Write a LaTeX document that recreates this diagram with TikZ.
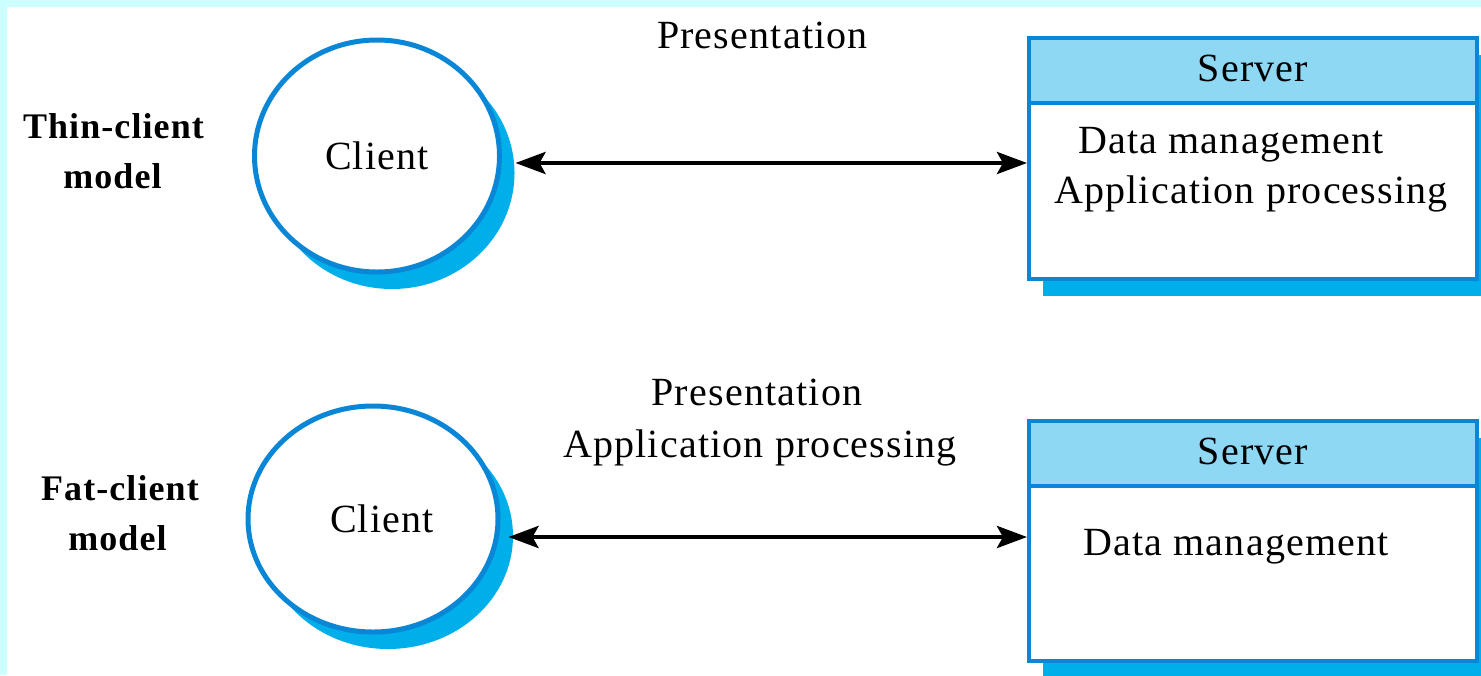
\documentclass[tikz,border=0pt]{standalone}
\usepackage{fontspec}
\setmainfont{Liberation Serif}[LetterSpace=3]
\usetikzlibrary{shapes.geometric,shadows,arrows.meta,calc}
\definecolor{bgcyan}{HTML}{CCFFFF}
\definecolor{edgeblue}{HTML}{0A86D6}
\definecolor{shadeblue}{HTML}{00AEEA}
\definecolor{headblue}{HTML}{8FD8F4}
\tikzset{
  lbl/.style={font=\fontsize{20}{25}\selectfont, inner sep=0pt, anchor=base},
  modellbl/.style={font=\bfseries\fontsize{18}{25}\selectfont, inner sep=0pt, anchor=base},
  bluedrop/.style={drop shadow={shadow xshift=#1, shadow yshift=-8.5pt, fill=shadeblue, opacity=1}},
  clientnode/.style={ellipse, draw=edgeblue, line width=2.5pt, fill=white, inner sep=0pt,
    font=\fontsize{20}{25}\selectfont, bluedrop=7.5pt},
  serverbox/.style={rectangle, draw=edgeblue, line width=2pt, fill=white,
    minimum width=224pt, bluedrop=7pt},
  serverhead/.style={rectangle, draw=edgeblue, line width=2pt, fill=headblue,
    minimum width=224pt, minimum height=32.5pt, anchor=north, inner sep=0pt,
    font=\fontsize{20}{25}\selectfont},
  link/.style={{Stealth[length=15pt,width=11pt,inset=3pt]}-{Stealth[length=15pt,width=11pt,inset=3pt]}, line width=2.2pt}
}
\begin{document}
\begin{tikzpicture}[x=0.5pt,y=-0.5pt]
% page background with its tinted frame
\fill[bgcyan] (0,0) rectangle (1481,675);
\fill[white] (7,7) rectangle (1481,675);
\useasboundingbox (0,0) rectangle (1481,675);

% ---- thin-client model ----
\node[modellbl] (thinA) at (113.5,138) {Thin-client};
\node[modellbl] (thinB) at (112.5,188) {model};
\node[clientnode, minimum width=122.5pt, minimum height=116pt] (c1) at (377,156) {Client};
\node[serverbox, minimum height=120.5pt] (s1) at (1253,158.5) {};
\node[serverhead] (h1) at (s1.north) {\raisebox{2pt}{Server}};
\node[lbl] (d1) at (1231,153) {Data management};
\node[lbl] (a1) at (1251,203) {Application processing};
\node[lbl] (pr1) at (762.5,48) {Presentation};
\coordinate (p1) at ($(c1.east)+(13.5,7)$);
\draw[link] (p1) -- (p1 -| s1.west);

% ---- fat-client model ----
\node[modellbl] (fatA) at (120,500) {Fat-client};
\node[modellbl] (fatB) at (117.5,550) {model};
\node[clientnode, minimum width=125pt, minimum height=113pt] (c2) at (373,519) {\hspace*{9pt}Client};
\node[serverbox, minimum height=120pt] (s2) at (1253,541) {};
\node[serverhead] (h2) at (s2.north) {\raisebox{2pt}{Server}};
\node[lbl] (d2) at (1236,555) {Data management};
\node[lbl] (pr2) at (757,405) {Presentation};
\node[lbl] (a2) at (760,457) {Application processing};
\coordinate (p2) at ($(c2.east)+(8,18)$);
\draw[link] (p2) -- (p2 -| s2.west);
\end{tikzpicture}
\end{document}
